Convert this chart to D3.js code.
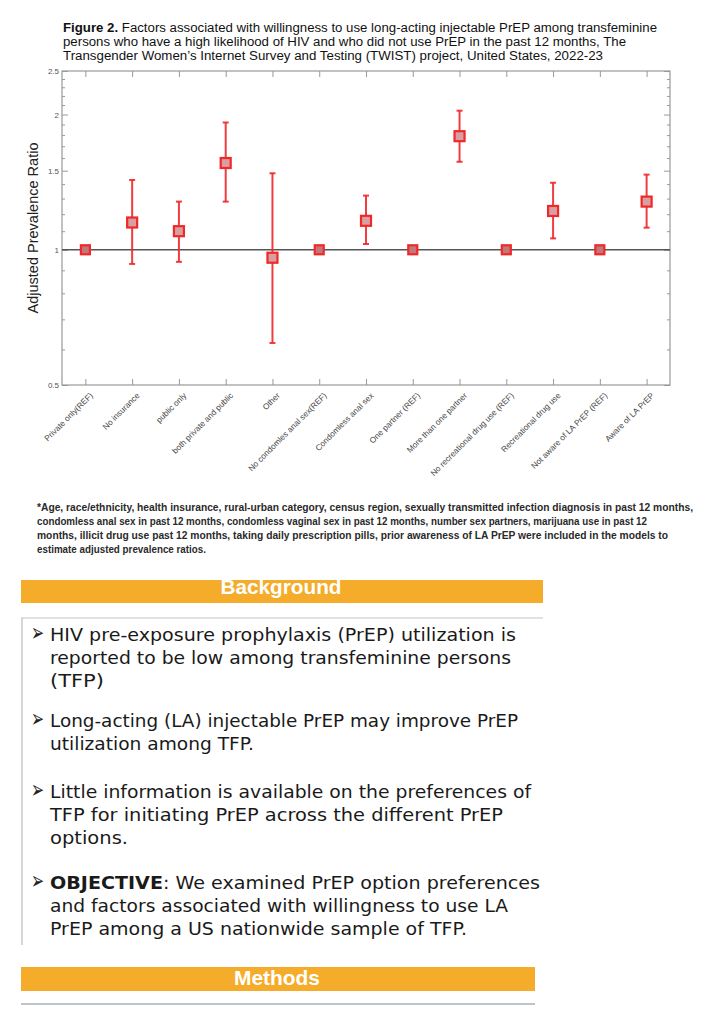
<!DOCTYPE html>
<html><head><meta charset="utf-8">
<script src="https://cdn.jsdelivr.net/npm/d3@7"></script>
<style>body{margin:0;background:#fff}svg{display:block}</style>
</head><body><svg id="c" width="716" height="1013"></svg>
<script>
const categories = ["Private only(REF)","No insurance","public only","both private and public","Other","No condomles anal sex(REF)","Condomless anal sex","One partner (REF)","More than one partner","No recreational drug use (REF)","Recreational drug use","Not aware of LA PrEP (REF)","Aware of LA PrEP"];
const estimates = [1, 1.15, 1.10, 1.56, 0.96, 1, 1.16, 1, 1.79, 1, 1.22, 1, 1.28];
const lowerCI   = [null, 0.93, 0.94, 1.28, 0.62, null, 1.03, null, 1.57, null, 1.06, null, 1.12];
const upperCI   = [null, 1.43, 1.28, 1.92, 1.48, null, 1.32, null, 2.04, null, 1.41, null, 1.47];
const isRef     = [true,false,false,false,false,true,false,true,false,true,false,true,false];
const yTickLabels = [0.5, 1, 1.5, 2, 2.5];
const yMinorTicks = [0.6,0.7,0.8,0.9,1.1,1.2,1.3,1.4,1.6,1.7,1.8,1.9,2.1,2.2,2.3,2.4];
const yLabel = "Adjusted Prevalence Ratio";
const titleBold = "Figure 2.";
const titleLines = [" Factors associated with willingness to use long-acting injectable PrEP among transfeminine",
  "persons who have a high likelihood of HIV and who did not use PrEP in the past 12 months, The",
  "Transgender Women\u2019s Internet Survey and Testing (TWIST) project, United States, 2022-23"];
const footnoteLines = ["*Age, race/ethnicity, health insurance, rural-urban category, census region, sexually transmitted infection diagnosis in past 12 months,",
  "condomless anal sex in past 12 months, condomless vaginal sex in past 12 months, number sex partners, marijuana use in past 12",
  "months, illicit drug use past 12 months, taking daily prescription pills, prior awareness of LA PrEP were included in the models to",
  "estimate adjusted prevalence ratios."];
const bullets = [
  [["HIV pre-exposure prophylaxis (PrEP) utilization is"],["reported to be low among transfeminine persons"],["(TFP)"]],
  [["Long-acting (LA) injectable PrEP may improve PrEP"],["utilization among TFP."]],
  [["Little information is available on the preferences of"],["TFP for initiating PrEP across the different PrEP"],["options."]],
  [["OBJECTIVE","bold"],["and factors associated with willingness to use LA"],["PrEP among a US nationwide sample of TFP."]]
];
const objectiveRest = ": We examined PrEP option preferences";

const svg = d3.select("#c");
svg.append("rect").attr("width",716).attr("height",1013).attr("fill","#fff");
const defs = svg.append("defs");

// Title
const narrow = "'Liberation Sans Narrow','Arial Narrow','Liberation Sans',Arial,sans-serif";
const titleW = [594, 563, 540];
const titleY = [32, 46, 60];
titleLines.forEach((t,i)=>{
  const tx = svg.append("text").attr("x",63).attr("y",titleY[i]).attr("font-family",narrow)
    .attr("font-size",12.5).attr("fill","#111").attr("textLength",titleW[i]).attr("lengthAdjust","spacingAndGlyphs");
  if(i===0){ tx.append("tspan").attr("font-weight","bold").text(titleBold); }
  tx.append("tspan").text(t);
});

// Chart
const L=62,R=670,T=71,B=385;
const x = d3.scaleLinear().domain([-0.5, categories.length-0.5]).range([L,R]);
const y = d3.scaleLog().domain([0.5,2.5]).range([B,T]);
const idx = d3.range(categories.length);

const axStyle = g => { g.selectAll("path").remove(); g.selectAll("line").attr("stroke","#999").attr("stroke-width",1);
  g.selectAll("text").attr("fill","#555").attr("font-family","'Liberation Sans',Arial,sans-serif").attr("font-size",8); };

svg.append("g").attr("transform",`translate(${L},0)`).call(d3.axisLeft(y).tickValues(yMinorTicks).tickSize(-3).tickFormat("")).call(axStyle);
svg.append("g").attr("transform",`translate(${L},0)`).call(d3.axisLeft(y).tickValues(yTickLabels).tickSize(-6).tickPadding(3).tickFormat(d3.format(""))).call(axStyle);
svg.append("g").attr("transform",`translate(${R},0)`).call(d3.axisRight(y).tickValues(yMinorTicks).tickSize(-3).tickFormat("")).call(axStyle);
svg.append("g").attr("transform",`translate(${R},0)`).call(d3.axisRight(y).tickValues(yTickLabels).tickSize(-6).tickFormat("")).call(axStyle);
svg.append("g").attr("transform",`translate(0,${T})`).call(d3.axisTop(x).tickValues(idx).tickSize(-6).tickFormat("")).call(axStyle);
svg.append("g").attr("transform",`translate(0,${B})`).call(d3.axisBottom(x).tickValues(idx).tickSize(-6).tickFormat("")).call(axStyle);
svg.append("rect").attr("x",L).attr("y",T).attr("width",R-L).attr("height",B-T).attr("fill","none").attr("stroke","#999").attr("stroke-width",1.2);

// reference line
svg.append("line").attr("x1",L).attr("x2",R).attr("y1",y(1)).attr("y2",y(1)).attr("stroke","#555").attr("stroke-width",1.4);

// x labels
svg.append("g").selectAll("text").data(categories).join("text")
  .attr("transform",(d,i)=>`translate(${x(i)+6},${B+9}) rotate(-45)`)
  .attr("text-anchor","end").attr("dy","0.35em")
  .attr("font-family","'Liberation Sans',Arial,sans-serif").attr("font-size",8.2).attr("fill","#444").text(d=>d);

// y label
svg.append("text").attr("transform",`translate(38,${(T+B)/2}) rotate(-90)`).attr("text-anchor","middle")
  .attr("font-family","'Liberation Sans',Arial,sans-serif").attr("font-size",14.5).attr("fill","#222").text(yLabel);

// error bars
const red = "#f02828";
const eb = svg.append("g").attr("stroke",red).attr("stroke-width",2).attr("stroke-opacity",0.9);
idx.filter(i=>lowerCI[i]!==null).forEach(i=>{
  eb.append("line").attr("x1",x(i)).attr("x2",x(i)).attr("y1",y(lowerCI[i])).attr("y2",y(upperCI[i]));
  [lowerCI[i],upperCI[i]].forEach(v=>eb.append("line").attr("x1",x(i)-3).attr("x2",x(i)+3).attr("y1",y(v)).attr("y2",y(v)));
});
// markers
svg.append("g").selectAll("rect").data(idx).join("rect")
  .attr("x",i=>x(i)-(isRef[i]?4.5:5)).attr("y",i=>y(estimates[i])-(isRef[i]?4.5:5))
  .attr("width",i=>isRef[i]?9:10).attr("height",i=>isRef[i]?9:10)
  .attr("fill",i=>isRef[i]?"#c0787c":"#d89ea2").attr("stroke",red).attr("stroke-width",2.2);

// footnote
const footW = [656, 610, 631, 169];
footnoteLines.forEach((t,i)=>{
  svg.append("text").attr("x",37).attr("y",511+i*14).attr("font-family",narrow).attr("font-weight","bold")
    .attr("font-size",10.5).attr("fill","#2a2a2a").attr("textLength",footW[i]).attr("lengthAdjust","spacingAndGlyphs").text(t);
});

// Background section
const orange = "#f4ac2a";
defs.append("clipPath").attr("id","clipBg").append("rect").attr("x",21).attr("y",579).attr("width",522).attr("height",24);
svg.append("rect").attr("x",21).attr("y",580).attr("width",522).attr("height",23).attr("fill",orange);
svg.append("text").attr("clip-path","url(#clipBg)").attr("x",281).attr("y",594).attr("text-anchor","middle").attr("font-family",narrow).attr("font-weight","bold")
  .attr("font-size",21).attr("fill","#fff").attr("textLength",121).attr("lengthAdjust","spacingAndGlyphs").text("Background");
svg.append("line").attr("x1",21).attr("x2",543).attr("y1",618).attr("y2",618).attr("stroke","#d4d8dc").attr("stroke-width",1.5);
svg.append("line").attr("x1",22).attr("x2",22).attr("y1",618).attr("y2",945).attr("stroke","#b8bec4").attr("stroke-width",1.2);

const verd = "'DejaVu Sans',Verdana,sans-serif";
const lineYs = [[641,664,687],[727,750],[798,821,844],[889,912,935]];
const lineWs = [[466,461,54],[468,204],[481,453,78],[490,458,417]];
bullets.forEach((b,bi)=>{
  svg.append("text").attr("x",31).attr("y",lineYs[bi][0]).attr("font-family",verd).attr("font-size",25)
    .attr("fill","#222").attr("textLength",13).attr("lengthAdjust","spacingAndGlyphs").text("\u27A2");
  b.forEach((ln,li)=>{
    const t = svg.append("text").attr("x",50).attr("y",lineYs[bi][li]).attr("font-family",verd).attr("font-size",17.5)
      .attr("fill","#1a1a1a").attr("textLength",lineWs[bi][li]).attr("lengthAdjust","spacingAndGlyphs");
    if(ln[1]==="bold"){ t.append("tspan").attr("font-weight","bold").text(ln[0]); t.append("tspan").text(objectiveRest); }
    else t.text(ln[0]);
  });
});

// Methods section
svg.append("rect").attr("x",21).attr("y",967).attr("width",514).attr("height",24).attr("fill",orange);
svg.append("text").attr("x",277).attr("y",985).attr("text-anchor","middle").attr("font-family",narrow).attr("font-weight","bold")
  .attr("font-size",21).attr("fill","#fff").attr("textLength",86).attr("lengthAdjust","spacingAndGlyphs").text("Methods");
svg.append("line").attr("x1",21).attr("x2",535).attr("y1",1004).attr("y2",1004).attr("stroke","#7a8a99").attr("stroke-width",1.2);
</script></body></html>
